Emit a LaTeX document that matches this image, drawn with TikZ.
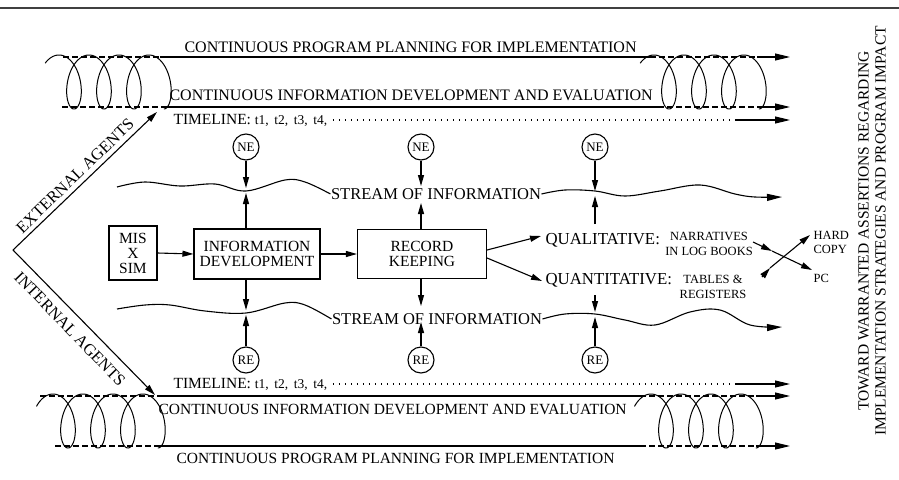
\documentclass[tikz,border=0pt]{standalone}
\usepackage{fontspec}
\setmainfont{Liberation Serif}
\usetikzlibrary{arrows.meta}
\begin{document}
\begin{tikzpicture}[x=1pt,y=-1pt,line width=1.1pt,
  arr/.style={-{Triangle[length=11pt,width=6pt]}},
  bigarr/.style={-{Triangle[length=15pt,width=7pt]}},
  lbl/.style={inner sep=0pt,font=\fontsize{16}{16}\selectfont},
  mid/.style={inner sep=0pt,font=\fontsize{15.5}{15.5}\selectfont},
  big/.style={inner sep=0pt,font=\fontsize{16.8}{16.8}\selectfont},
  small/.style={inner sep=0pt,font=\fontsize{12.5}{15}\selectfont,align=center},
  circ/.style={circle,draw,minimum size=26pt,inner sep=0pt,font=\fontsize{13}{13}\selectfont},
  boxx/.style={draw,inner sep=0pt,align=center,font=\fontsize{15.5}{15}\selectfont},
  dsh/.style={dash pattern=on 6pt off 3pt},
  dotl/.style={line width=1.6pt,dash pattern=on 1.6pt off 4.4pt}]
\useasboundingbox (0,0) rectangle (899,479);
% top rule
\draw[line width=1.6pt,black!75] (0,8) -- (899,8);

% ---------- top band ----------
\node[lbl,anchor=west] (cppT) at (184,47) {CONTINUOUS PROGRAM PLANNING FOR IMPLEMENTATION};
\node[lbl,anchor=west] (cidT) at (169,95) {CONTINUOUS INFORMATION DEVELOPMENT AND EVALUATION};
\node[mid,anchor=west] (tlT) at (173,120) {TIMELINE: {\fontsize{13.5}{13.5}\selectfont t1,\,\ t2,\,\ t3,\,\ t4,}};

\coordinate (a1) at (63,57); \coordinate (a2) at (160,57); \coordinate (a3) at (650,57);
\coordinate (a4) at (757,57); \coordinate (a5) at (790,57);
\draw[dsh] (a1) -- (a2); \draw (a2) -- (a3); \draw[dsh] (a3) -- (a4); \draw[bigarr] (a4) -- (a5);
\coordinate (b1) at (62,107); \coordinate (b2) at (166,107); \coordinate (b3) at (658,107);
\coordinate (b4) at (757,107); \coordinate (b5) at (790,107);
\draw[dsh] (b1) -- (b2); \draw (b2) -- (b3); \draw[dsh] (b3) -- (b4); \draw[bigarr] (b4) -- (b5);
\coordinate (c2) at (735,120); \coordinate (c3) at (790,120);
\draw[dotl] ([xshift=5pt]tlT.east) -- (c2); \draw[bigarr] (c2) -- (c3);

% coils top
\draw[line width=1pt] plot[domain=-0.8:21.99,samples=300,smooth,variable=\t]
  ({59+4.77*\t+14*sin(\t r)},{82-27*cos(\t r)});
\draw[line width=1pt] plot[domain=-0.8:21.99,samples=300,smooth,variable=\t]
  ({654+4.77*\t+14*sin(\t r)},{82-27*cos(\t r)});

% ---------- bottom band ----------
\node[mid,anchor=west] (tlB) at (173,384) {TIMELINE: {\fontsize{13.5}{13.5}\selectfont t1,\,\ t2,\,\ t3,\,\ t4,}};
\node[mid,anchor=west] (cidB) at (158,409) {CONTINUOUS INFORMATION DEVELOPMENT AND EVALUATION};
\node[mid,anchor=west] (cppB) at (176,458) {CONTINUOUS PROGRAM PLANNING FOR IMPLEMENTATION};
\coordinate (e2) at (735,384); \coordinate (e3) at (790,384);
\draw[dotl] ([xshift=5pt]tlB.east) -- (e2); \draw[bigarr] (e2) -- (e3);
\coordinate (f1) at (40,396); \coordinate (f2) at (158,396); \coordinate (f3) at (640,396);
\coordinate (f4) at (756,396); \coordinate (f5) at (790,396);
\draw[dsh] (f1) -- (f2); \draw (f2) -- (f3); \draw[dsh] (f3) -- (f4); \draw[bigarr] (f4) -- (f5);
\coordinate (g1) at (55,446); \coordinate (g2) at (158,446); \coordinate (g3) at (640,446);
\coordinate (g4) at (756,446); \coordinate (g5) at (790,446);
\draw[dsh] (g1) -- (g2); \draw (g2) -- (g3); \draw[dsh] (g3) -- (g4); \draw[bigarr] (g4) -- (g5);
\draw[line width=1pt] plot[domain=-1:21.99,samples=300,smooth,variable=\t]
  ({53+4.77*\t+14*sin(\t r)},{421-27*cos(\t r)});
\draw[line width=1pt] plot[domain=-1:21.99,samples=300,smooth,variable=\t]
  ({651+4.77*\t+14*sin(\t r)},{421-27*cos(\t r)});

% ---------- agents ----------
\coordinate (v) at (13,250);
\coordinate (extTip) at (157,112); \coordinate (intTip) at (155,395);
\draw[arr] (v) -- (extTip); \draw[arr] (v) -- (intTip);
\node[inner sep=0pt,font=\fontsize{16.5}{16.5}\selectfont,rotate=44] (ext) at (75,176) {EXTERNAL AGENTS};
\node[inner sep=0pt,font=\fontsize{16.5}{16.5}\selectfont,rotate=-46] (int) at (70,329) {INTERNAL AGENTS};

% ---------- boxes ----------
\node[boxx,minimum width=48pt,minimum height=54pt] (mis) at (133,253) {MIS\\X\\SIM};
\node[boxx,minimum width=126pt,minimum height=50pt] (idev) at (257,254) {INFORMATION\\DEVELOPMENT};
\node[boxx,minimum width=129pt,minimum height=49pt] (rk) at (422,254) {RECORD\\KEEPING};
\draw[arr] (mis.east) -- (idev.west);
\draw[arr] (idev.east) -- (rk.west);

% ---------- streams ----------
\node[inner sep=0pt,font=\fontsize{16.5}{16.5}\selectfont] (sU) at (436,194) {STREAM OF INFORMATION};
\node[inner sep=0pt,font=\fontsize{16.5}{16.5}\selectfont] (sL) at (437,319) {STREAM OF INFORMATION};
\draw plot[smooth,tension=0.6] coordinates {(117,187) (145,182) (180,186) (215,184) (246,191) (285,180) (305,182) (sU.west)};
\draw[bigarr] plot[smooth,tension=0.6] coordinates {(sU.east) (565,190) (595,191) (625,196) (660,191) (700,185) (735,194) (755,197) (782,197)};
\draw plot[smooth,tension=0.6] coordinates {(117,309) (145,305) (170,305) (205,311) (246,313) (285,303) (305,305) (sL.west)};
\draw[bigarr] plot[smooth,tension=0.6] coordinates {(sL.east) (565,314) (595,314) (625,320) (655,325) (690,312) (720,310) (750,325) (782,327)};

% ---------- NE / RE ----------
\node[circ] (ne1) at (246,147) {NE};
\node[circ] (ne2) at (421,147) {NE};
\node[circ] (ne3) at (595,147) {NE};
\node[circ] (re1) at (246,360) {RE};
\node[circ] (re2) at (421,360) {RE};
\node[circ] (re3) at (595,360) {RE};
\coordinate (ut1) at (246,188); \coordinate (ub1) at (246,193);
\coordinate (ut2) at (421,186); \coordinate (ub2) at (421,203);
\coordinate (ut3) at (595,191); \coordinate (ub3) at (595,196);
\coordinate (lt1) at (246,310); \coordinate (lb1) at (246,315);
\coordinate (lt2) at (421,306); \coordinate (lb2) at (421,322);
\coordinate (lt3) at (595,312); \coordinate (lb3) at (595,317);
\coordinate (q3a) at (595,224); \coordinate (q3b) at (595,295);
\draw[arr] (ne1) -- (ut1); \draw[arr] (ne1 |- idev.north) -- (ub1);
\draw[arr] (ne2) -- (ut2); \draw[arr] (ne2 |- rk.north) -- (ub2);
\draw[arr] (ne3) -- (ut3); \draw[arr] (q3a) -- (ub3);
\draw[arr] (ne1 |- idev.south) -- (lt1); \draw[arr] (re1) -- (lb1);
\draw[arr] (ne2 |- rk.south) -- (lt2); \draw[arr] (re2) -- (lb2);
\draw[arr] (q3b) -- (lt3); \draw[arr] (re3) -- (lb3);

% ---------- outputs ----------
\node[big,anchor=west] (qual) at (545,240) {QUALITATIVE:};
\node[big,anchor=west] (quant) at (545,280) {QUANTITATIVE:};
\node[small] (narr) at (709,244) {NARRATIVES\\IN LOG BOOKS};
\node[small] (tabl) at (713,287) {TABLES \&\\REGISTERS};
\coordinate (qa) at (541,236); \coordinate (qb) at (542,281);
\draw[arr] ([yshift=4pt]rk.east) -- (qa);
\draw[arr] ([yshift=-4pt]rk.east) -- (qb);
\node[inner sep=0pt,anchor=west,align=left,font=\fontsize{12.5}{14}\selectfont] (hard) at (813,242) {HARD\\COPY};
\node[inner sep=0pt,anchor=west,font=\fontsize{12.5}{12.5}\selectfont] (pc) at (813,278) {PC};
\coordinate (xa0) at (753,242); \coordinate (xa1) at (772,251); \coordinate (xa2) at (812,270);
\coordinate (xb0) at (762,277); \coordinate (xb1) at (770,268); \coordinate (xb2) at (810,235);
\draw[arr] (xa0) -- (xa1); \draw[arr] (xa1) -- (xa2);
\draw[arr] (xb0) -- (xb1); \draw[arr] (xb1) -- (xb2);

% ---------- side text ----------
\node[rotate=90,align=center,inner sep=0pt,font=\fontsize{15.5}{17}\selectfont] (side) at (872,231)
  {TOWARD WARRANTED ASSERTIONS REGARDING\\IMPLEMENTATION STRATEGIES AND PROGRAM IMPACT};
\end{tikzpicture}
\end{document}
